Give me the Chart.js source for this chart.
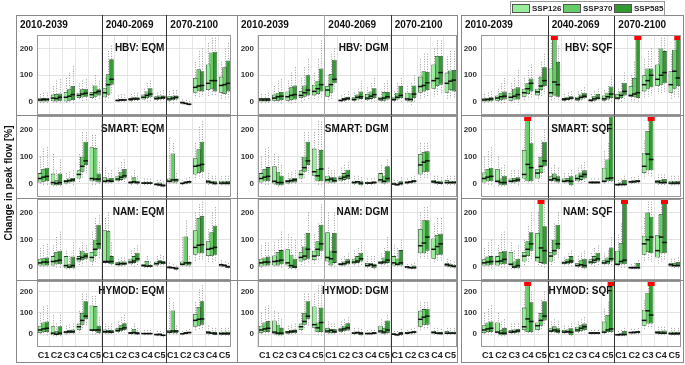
<!DOCTYPE html>
<html>
<head>
<meta charset="utf-8">
<script src="https://cdn.jsdelivr.net/npm/chart.js@4.4.1/dist/chart.umd.min.js"></script>
<style>
  body { margin: 0; background: #fff; font-family: "Liberation Sans", Arial, sans-serif; }
  #fig { position: relative; width: 685px; height: 365px; overflow: hidden; }
  #fig div, #fig canvas { position: absolute; }
  .frame { border: 1px solid #888; box-sizing: border-box; }
  .hdr { font-size: 10px; font-weight: bold; color: #111; line-height: 12px; white-space: nowrap; }
  .ttl { font-size: 10px; font-weight: bold; color: #111; line-height: 12px; text-align: right; white-space: nowrap; }
</style>
</head>
<body>
<div id="fig"></div>
<script>
// axis / category labels
const periods = ["2010-2039", "2040-2069", "2070-2100"];
const catNames = ["C1", "C2", "C3", "C4", "C5"];
const sspNames = ["SSP126", "SSP370", "SSP585"];
const sspColors = ["#99ee99", "#66cc66", "#339933"];
const yTicks = [0, 100, 200];
const yMax = 250;

// each box: [lower whisker, q1, median, q3, upper whisker], 15 per series (C1..C5 x 3 periods)
const hbvEqm126 = [[-5,0,8,14,30],[-3,3,15,28,60],[-5,2,18,38,90],[5,15,25,35,70],[5,15,28,38,65],
  [5,18,35,52,90],[0,3,6,10,25],[0,5,10,15,30],[0,10,18,28,50],[2,8,14,22,35],
  [-5,5,12,22,40],[-10,-5,-2,2,10],[15,35,55,90,150],[20,45,70,140,220],[10,35,62,95,150]];
const hbvEqm370 = [[-5,0,9,15,35],[-5,2,13,30,80],[-5,5,22,48,110],[5,18,30,48,80],[5,20,35,62,100],
  [10,27,65,104,190],[0,5,8,12,30],[0,8,12,18,35],[0,15,25,40,70],[0,10,15,25,40],
  [-5,8,15,24,45],[-12,-8,-5,-2,8],[20,42,60,122,190],[25,50,80,185,240],[10,30,65,130,200]];
const hbvEqm585 = [[-5,0,10,16,35],[-5,5,18,32,85],[-10,8,28,60,135],[5,20,33,50,85],[10,25,40,48,80],
  [30,65,85,160,210],[0,5,8,12,28],[2,8,12,18,35],[0,18,30,52,80],[2,12,18,25,45],
  [0,10,18,25,45],[-15,-12,-8,-5,5],[20,40,62,115,200],[25,40,80,188,240],[15,40,70,155,220]];

const hbvDgm126 = [[-5,0,8,15,30],[-5,5,15,28,60],[-5,5,20,40,80],[0,15,25,42,90],[10,25,40,65,110],
  [5,20,45,60,100],[0,3,6,10,25],[0,5,10,18,35],[0,8,15,30,55],[0,5,12,20,40],
  [0,5,10,20,40],[-5,5,12,35,60],[10,35,58,95,160],[20,50,80,140,200],[10,35,70,110,170]];
const hbvDgm370 = [[-5,0,8,15,30],[-5,5,20,35,80],[-5,8,25,55,110],[5,20,35,62,130],[10,30,50,80,160],
  [10,35,65,105,180],[0,5,10,15,30],[0,10,18,28,50],[0,12,22,40,70],[-5,5,15,38,70],
  [0,10,18,35,70],[-10,2,10,35,70],[15,40,62,115,180],[25,60,88,172,230],[15,45,78,118,190]];
const hbvDgm585 = [[-5,0,8,15,35],[-5,8,22,38,85],[-5,10,28,62,130],[5,25,45,100,160],[15,40,65,125,230],
  [40,70,85,158,200],[2,8,14,20,40],[0,12,20,40,80],[2,15,28,52,90],[0,10,20,38,80],
  [0,15,25,60,90],[0,15,30,62,100],[20,45,72,112,180],[30,65,110,172,230],[15,40,82,120,190]];

const hbvSqf126 = [[-5,0,8,14,30],[-5,5,15,25,50],[-5,5,18,35,70],[5,20,35,50,90],[10,25,38,50,90],
  [5,20,35,125,220],[0,5,10,15,30],[0,5,12,20,40],[-5,3,6,12,30],[0,5,12,25,45],
  [0,10,15,30,50],[0,20,25,60,100],[15,40,65,100,160],[30,60,85,140,200],[10,35,65,115,180]];
const hbvSqf370 = [[-5,2,10,16,35],[-5,8,20,35,70],[-5,10,22,50,90],[10,30,50,70,120],[20,45,60,95,150],
  [5,25,75,250,300],[0,8,12,20,35],[0,10,18,28,45],[-5,5,12,22,40],[0,10,20,35,60],
  [0,15,25,40,70],[0,20,30,90,150],[20,50,80,125,190],[30,65,100,200,240],[20,50,115,195,240]];
const hbvSqf585 = [[-5,3,12,18,40],[-5,10,22,40,90],[-10,10,28,55,120],[15,40,70,88,140],[30,60,80,130,180],
  [0,20,65,150,210],[0,10,15,22,40],[5,15,22,35,55],[0,10,15,30,50],[0,15,30,58,95],
  [5,25,40,72,110],[0,15,35,250,300],[25,55,100,125,200],[35,70,110,190,240],[20,60,90,250,300]];

const smartEqm126 = [[-5,5,20,40,100],[-10,-5,5,38,110],[-5,2,10,15,40],[5,20,35,50,110],[-5,10,20,135,180],
  [-5,5,10,25,60],[0,10,18,30,60],[-5,0,5,10,30],[-5,0,3,6,20],[-10,-5,-2,3,15],
  [0,5,10,20,170],[-5,0,2,5,15],[15,35,65,95,150],[-5,0,8,15,40],[-10,-2,3,12,30]];
const smartEqm370 = [[-5,8,25,55,130],[-10,-5,2,15,50],[-5,5,12,20,45],[20,45,65,100,190],[-5,10,18,132,180],
  [-5,5,12,20,40],[5,15,25,45,80],[-5,3,8,25,50],[-5,0,3,6,20],[-12,-8,-3,5,15],
  [-5,5,15,112,150],[-5,2,5,10,20],[20,40,68,128,210],[-5,0,5,12,30],[-10,-2,3,12,30]];
const smartEqm585 = [[-5,10,28,60,135],[-10,-5,5,38,90],[-5,8,15,22,50],[40,70,85,155,190],[-5,5,18,38,80],
  [-5,5,10,22,50],[5,20,30,55,90],[-5,0,5,12,30],[-5,0,3,6,20],[-15,-10,-5,-2,10],
  [-5,5,15,20,40],[0,3,8,12,25],[20,45,72,155,230],[-5,-2,2,10,30],[-10,-2,3,12,30]];

const smartDgm126 = [[-5,5,20,40,100],[-10,0,10,65,110],[-5,2,10,15,40],[5,20,35,50,100],[10,30,45,130,190],
  [-5,5,15,30,60],[0,10,20,30,60],[-5,0,5,12,30],[-5,0,3,8,20],[-5,5,15,40,70],
  [-10,-3,0,5,15],[-5,2,5,10,20],[15,35,70,110,150],[-5,3,8,15,30],[-10,0,5,15,30]];
const smartDgm370 = [[-5,10,25,55,130],[-10,-5,5,45,100],[-5,5,12,20,45],[20,45,60,100,190],[-5,10,30,55,230],
  [-5,5,18,25,50],[0,15,25,40,70],[-5,2,8,12,30],[-5,0,3,8,20],[-5,2,10,30,60],
  [-10,-5,-3,2,15],[-5,3,8,12,25],[20,45,80,118,150],[-5,0,5,12,30],[-10,0,5,12,30]];
const smartDgm585 = [[-5,10,28,62,135],[-10,-5,5,30,70],[-5,5,15,22,50],[40,70,85,155,190],[-10,10,55,125,230],
  [-5,5,12,25,50],[5,18,30,52,80],[-10,-5,3,10,25],[-5,2,5,10,20],[-5,5,20,65,90],
  [-10,-3,2,10,25],[-5,5,10,15,30],[20,45,85,120,150],[-5,0,3,10,25],[-10,0,5,12,30]];

const smartSqf126 = [[-5,5,20,42,100],[-10,5,10,55,100],[-5,5,10,20,50],[5,20,35,125,200],[5,20,40,55,100],
  [0,10,15,28,60],[-5,5,10,20,40],[0,10,20,35,60],[-5,3,5,10,20],[-5,5,10,60,120],
  [-10,-5,-3,2,15],[-5,3,8,12,25],[20,40,65,115,160],[-5,0,8,15,35],[-10,-2,3,12,30]];
const smartSqf370 = [[-5,10,25,55,120],[-10,-5,5,20,60],[-5,5,12,22,50],[0,10,72,250,300],[20,40,65,100,160],
  [0,10,20,38,70],[-5,5,12,22,40],[0,15,28,42,70],[-5,3,5,10,20],[0,10,20,90,150],
  [-10,-5,-2,5,20],[0,5,8,14,25],[30,50,110,195,240],[-5,0,5,15,35],[-10,-2,3,12,30]];
const smartSqf585 = [[-5,10,28,60,135],[-10,-5,5,30,70],[-5,8,15,25,50],[0,10,60,150,200],[40,65,85,155,200],
  [-5,5,15,28,60],[-10,-5,10,28,50],[5,20,35,50,80],[-5,3,5,10,20],[0,10,22,248,248],
  [-10,-5,-2,15,30],[0,5,10,15,30],[25,50,90,250,300],[-5,0,5,18,35],[-10,-2,3,12,30]];

const namEqm126 = [[-5,5,15,30,70],[-5,5,20,40,80],[-10,-5,5,40,60],[5,20,30,40,70],[5,20,35,55,130],
  [5,15,20,135,180],[0,5,10,18,30],[0,10,18,30,60],[-5,0,5,10,20],[0,5,12,20,40],
  [-10,-5,-2,3,15],[-5,5,10,20,110],[20,45,72,135,200],[15,40,65,95,140],[-5,2,8,12,25]];
const namEqm370 = [[-5,5,18,32,80],[-5,10,22,55,110],[-10,-5,0,10,40],[5,25,35,60,90],[15,40,65,100,180],
  [5,15,20,132,200],[0,5,12,20,35],[0,15,22,40,70],[-5,0,3,22,40],[0,10,18,25,45],
  [-10,-5,-3,0,10],[-5,5,15,112,170],[25,50,80,180,230],[15,40,68,128,200],[-5,0,5,10,20]];
const namEqm585 = [[-5,5,18,35,85],[-5,10,25,60,130],[-10,-5,5,38,90],[10,30,40,52,80],[30,65,85,155,190],
  [0,10,20,40,90],[0,8,12,20,35],[5,20,30,52,80],[-5,0,3,8,20],[0,10,15,22,40],
  [-15,-10,-5,-2,5],[-5,5,15,20,40],[25,50,82,188,240],[20,45,72,152,220],[-10,-2,0,5,15]];

const namDgm126 = [[-10,0,15,30,80],[-5,5,20,42,90],[-10,5,15,65,120],[5,20,35,55,100],[10,25,40,60,120],
  [5,20,35,128,200],[0,5,10,15,30],[0,10,18,30,60],[-5,0,5,15,40],[0,10,15,22,50],
  [-5,5,15,40,80],[-10,-5,0,3,10],[30,50,78,140,200],[15,30,65,105,160],[-5,2,8,15,30]];
const namDgm370 = [[-5,5,18,35,90],[-5,5,22,55,100],[-10,-5,5,45,110],[5,25,40,75,120],[20,40,65,95,160],
  [-5,5,30,60,110],[0,5,12,20,40],[0,15,22,40,70],[-5,0,8,15,40],[0,10,18,35,70],
  [-5,5,10,30,70],[-10,-5,-3,2,10],[30,50,88,172,220],[20,45,75,118,180],[-5,0,5,12,25]];
const namDgm585 = [[-5,5,18,38,90],[-5,10,25,62,130],[-10,-5,0,30,100],[10,30,65,125,200],[30,60,85,155,230],
  [-5,15,55,125,200],[0,10,18,28,50],[5,20,30,52,90],[-10,-5,5,12,40],[0,15,25,60,110],
  [-5,5,15,62,100],[-10,-5,-3,5,15],[30,60,110,172,220],[20,45,85,122,180],[-10,-2,2,8,20]];

const namSqf126 = [[-5,5,15,28,70],[-5,5,20,40,80],[-10,5,10,55,90],[5,20,40,55,100],[5,20,35,125,200],
  [5,20,40,55,100],[0,10,15,20,35],[-5,0,5,15,40],[0,10,18,28,50],[0,10,15,25,50],
  [-5,5,10,60,120],[-10,-5,-3,2,10],[20,45,85,115,180],[10,35,60,118,190],[-5,2,8,15,30]];
const namSqf370 = [[-5,5,18,38,90],[-5,10,22,55,120],[-10,-5,0,20,60],[15,40,65,95,150],[0,15,70,250,300],
  [15,45,60,100,160],[0,10,18,30,50],[-5,0,8,25,50],[0,15,25,40,70],[0,10,20,35,60],
  [-5,10,20,88,160],[-10,-5,-3,2,15],[25,55,100,200,240],[20,50,110,195,240],[-5,0,5,15,30]];
const namSqf585 = [[-5,8,20,40,100],[-5,10,28,60,130],[-10,-5,5,30,80],[30,60,85,128,200],[-5,10,60,150,230],
  [30,65,85,155,200],[0,15,22,40,60],[-10,-5,5,30,60],[5,20,30,52,80],[0,20,30,72,110],
  [-5,10,25,250,300],[-10,-5,-3,15,25],[20,50,110,185,240],[25,50,90,250,300],[-5,0,5,18,35]];

const hymodEqm126 = [[-5,5,20,40,100],[-10,-5,5,38,90],[-5,3,10,15,40],[5,20,35,50,110],[-5,15,20,135,180],
  [-5,5,12,22,50],[0,10,18,30,60],[-5,0,5,10,30],[-5,0,3,6,20],[-10,-5,-2,3,15],
  [0,5,10,20,170],[-5,0,2,5,15],[15,35,65,95,150],[-5,0,8,15,40],[-10,-2,3,12,30]];
const hymodEqm370 = [[-5,10,25,55,130],[-10,-5,0,15,50],[-5,5,12,20,45],[20,45,65,100,190],[-5,15,20,132,180],
  [-5,5,12,20,40],[5,15,25,42,80],[-5,2,8,25,50],[-5,0,3,6,20],[-10,-5,-2,5,15],
  [-5,5,15,112,150],[-5,2,5,10,20],[20,40,70,128,210],[-5,0,5,12,30],[-10,-2,3,12,30]];
const hymodEqm585 = [[-5,10,28,60,135],[-10,-5,5,38,90],[-5,5,12,22,50],[40,70,85,155,190],[-5,5,20,40,80],
  [-5,5,10,20,50],[5,20,30,52,90],[-5,0,3,10,30],[-5,0,3,6,20],[-15,-10,-5,-2,10],
  [-5,5,15,20,40],[0,3,8,12,25],[20,45,72,155,230],[-5,-2,2,10,30],[-10,-2,3,12,30]];

const hymodDgm126 = [[-5,5,20,40,100],[-10,0,10,65,110],[-5,2,10,15,40],[5,20,35,50,100],[10,30,45,130,190],
  [-5,5,15,30,60],[0,10,20,30,60],[-5,0,5,12,30],[-5,0,3,8,20],[-5,5,15,40,70],
  [-10,-3,0,5,15],[-5,2,5,10,20],[15,35,70,110,150],[-5,3,8,15,30],[-10,0,5,15,30]];
const hymodDgm370 = [[-5,10,25,55,130],[-10,-5,5,45,100],[-5,5,12,20,45],[20,45,60,100,190],[-5,10,30,55,230],
  [-5,5,18,25,50],[0,15,25,40,70],[-5,2,8,12,30],[-5,0,3,8,20],[-5,2,10,30,60],
  [-10,-5,-3,2,15],[-5,3,8,12,25],[20,45,80,118,150],[-5,0,5,12,30],[-10,0,5,12,30]];
const hymodDgm585 = [[-5,10,28,62,135],[-10,-5,5,30,70],[-5,5,15,22,50],[40,70,85,155,190],[-10,10,55,125,230],
  [-5,5,12,25,50],[5,18,30,52,80],[-10,-5,3,10,25],[-5,2,5,10,20],[-5,5,20,65,90],
  [-10,-3,2,10,25],[-5,5,10,15,30],[20,45,85,120,150],[-5,0,3,10,25],[-10,0,5,12,30]];

const hymodSqf126 = [[-5,5,20,42,100],[-10,5,10,55,100],[-5,5,10,20,50],[5,20,35,125,200],[5,20,40,55,100],
  [0,10,15,28,60],[-5,5,10,20,40],[0,10,20,35,60],[-5,3,5,10,20],[-5,5,10,60,120],
  [-10,-5,-3,2,15],[-5,3,8,12,25],[20,40,65,115,160],[-5,0,8,15,35],[-10,-2,3,12,30]];
const hymodSqf370 = [[-5,10,25,55,120],[-10,-5,5,20,60],[-5,5,12,22,50],[0,10,72,250,300],[20,40,65,100,160],
  [0,10,20,38,70],[-5,5,12,22,40],[0,15,28,42,70],[-5,3,5,10,20],[0,10,20,90,150],
  [-10,-5,-2,5,20],[0,5,8,14,25],[30,50,110,195,240],[-5,0,5,15,35],[-10,-2,3,12,30]];
const hymodSqf585 = [[-5,10,28,60,135],[-10,-5,5,30,70],[-5,8,15,25,50],[0,10,60,150,200],[40,65,85,155,200],
  [-5,5,15,28,60],[-10,-5,10,28,50],[5,20,35,50,80],[-5,3,5,10,20],[0,10,25,250,300],
  [-10,-5,-2,15,30],[0,5,10,15,30],[25,50,90,250,300],[-5,0,5,18,35],[-10,-2,3,12,30]];

const panels = [
  { title: "HBV: EQM", col: 0, row: 0, sets: [hbvEqm126, hbvEqm370, hbvEqm585] },
  { title: "HBV: DGM", col: 1, row: 0, sets: [hbvDgm126, hbvDgm370, hbvDgm585] },
  { title: "HBV: SQF", col: 2, row: 0, sets: [hbvSqf126, hbvSqf370, hbvSqf585] },
  { title: "SMART: EQM", col: 0, row: 1, sets: [smartEqm126, smartEqm370, smartEqm585] },
  { title: "SMART: DGM", col: 1, row: 1, sets: [smartDgm126, smartDgm370, smartDgm585] },
  { title: "SMART: SQF", col: 2, row: 1, sets: [smartSqf126, smartSqf370, smartSqf585] },
  { title: "NAM: EQM", col: 0, row: 2, sets: [namEqm126, namEqm370, namEqm585] },
  { title: "NAM: DGM", col: 1, row: 2, sets: [namDgm126, namDgm370, namDgm585] },
  { title: "NAM: SQF", col: 2, row: 2, sets: [namSqf126, namSqf370, namSqf585] },
  { title: "HYMOD: EQM", col: 0, row: 3, sets: [hymodEqm126, hymodEqm370, hymodEqm585] },
  { title: "HYMOD: DGM", col: 1, row: 3, sets: [hymodDgm126, hymodDgm370, hymodDgm585] },
  { title: "HYMOD: SQF", col: 2, row: 3, sets: [hymodSqf126, hymodSqf370, hymodSqf585] }
];

// layout of the three blocks and four rows
const cols = [
  { l: 16, r: 238, pl: 37, pr: 231, lines: ["#333", "#333"] },
  { l: 237, r: 458, pl: 258, pr: 457, lines: ["#aaa", "#333"] },
  { l: 461, r: 684, pl: 481, pr: 681, lines: ["#333", "#333"] }
];
const rows = [
  { t: 35, h: 80, min: -48 },
  { t: 116, h: 81, min: -48 },
  { t: 199, h: 81, min: -48 },
  { t: 281, h: 66, min: -60 }
];
const frameTop = 15, frameBottom = 363, yAxisW = 22, xAxisH = 18;

const fig = document.getElementById("fig");
function addDiv(cls, css, text) {
  const d = document.createElement("div");
  if (cls) d.className = cls;
  Object.assign(d.style, css);
  if (text) d.textContent = text;
  fig.appendChild(d);
  return d;
}

// box-plot parts: whiskers, medians, clipped markers, plot frame
const boxPlugin = {
  id: "boxParts",
  beforeDatasetsDraw(chart) {
    const ctx = chart.ctx, y = chart.scales.y, a = chart.chartArea;
    ctx.save();
    ctx.beginPath();
    ctx.rect(a.left, a.top, a.right - a.left, a.bottom - a.top);
    ctx.clip();
    ctx.strokeStyle = "#a0a0a0";
    ctx.lineWidth = 1;
    ctx.setLineDash([1, 1.5]);
    chart.data.datasets.forEach((ds, i) => {
      chart.getDatasetMeta(i).data.forEach((bar, j) => {
        const s = ds.stats[j];
        const x = Math.round(bar.x) + 0.5;
        ctx.beginPath();
        ctx.moveTo(x, y.getPixelForValue(s[4]));
        ctx.lineTo(x, y.getPixelForValue(s[3]));
        ctx.moveTo(x, y.getPixelForValue(s[1]));
        ctx.lineTo(x, y.getPixelForValue(s[0]));
        ctx.stroke();
      });
    });
    ctx.restore();
  },
  afterDatasetsDraw(chart) {
    const ctx = chart.ctx, y = chart.scales.y, a = chart.chartArea;
    ctx.save();
    ctx.beginPath();
    ctx.rect(a.left, a.top, a.right - a.left, a.bottom - a.top);
    ctx.clip();
    chart.data.datasets.forEach((ds, i) => {
      chart.getDatasetMeta(i).data.forEach((bar, j) => {
        const s = ds.stats[j];
        const my = y.getPixelForValue(s[2]);
        ctx.strokeStyle = "#111";
        ctx.lineWidth = 1.5;
        ctx.beginPath();
        ctx.moveTo(bar.x - bar.width / 2, my);
        ctx.lineTo(bar.x + bar.width / 2, my);
        ctx.stroke();
        if (s[4] > y.max) {
          ctx.fillStyle = "#ff0000";
          ctx.fillRect(bar.x - 3.5, a.top, 7, 5);
        }
      });
    });
    ctx.restore();
    ctx.save();
    ctx.strokeStyle = "#999";
    ctx.lineWidth = 1;
    ctx.strokeRect(a.left + 0.5, a.top + 0.5, a.right - a.left - 1, a.bottom - a.top - 1);
    ctx.restore();
  }
};

const labels = periods.flatMap(() => catNames);

panels.forEach(p => {
  const c = cols[p.col], r = rows[p.row];
  const bottom = p.row === rows.length - 1;
  const cv = document.createElement("canvas");
  const w = c.pr - c.pl + yAxisW;
  const h = r.h + (bottom ? xAxisH : 0);
  cv.width = w; cv.height = h;
  cv.style.left = (c.pl - yAxisW) + "px";
  cv.style.top = r.t + "px";
  fig.appendChild(cv);

  new Chart(cv, {
    type: "bar",
    data: {
      labels: labels,
      datasets: sspNames.map((name, k) => ({
        label: name,
        data: p.sets[k].map(s => [s[1], s[3]]),
        stats: p.sets[k],
        backgroundColor: sspColors[k],
        borderColor: "#2e4a2e",
        borderWidth: 0.8,
        borderSkipped: false,
        categoryPercentage: 0.78,
        barPercentage: 1.35
      }))
    },
    options: {
      responsive: false,
      animation: false,
      events: [],
      layout: { padding: 0 },
      plugins: { legend: { display: false }, tooltip: { enabled: false } },
      scales: {
        x: {
          grid: { color: "#e6e6e6", drawTicks: false },
          border: { display: false },
          ticks: { display: bottom, autoSkip: false, maxRotation: 0, padding: 3,
                   color: "#222", font: { size: 9, weight: "bold", family: "Liberation Sans" } },
          afterFit(axis) {
            axis.height = bottom ? xAxisH : 0;
            axis.paddingLeft = 0; axis.paddingRight = 0;
          }
        },
        y: {
          min: r.min,
          max: yMax,
          afterBuildTicks(axis) { axis.ticks = yTicks.map(v => ({ value: v })); },
          grid: { color: "#e2e2e2", drawTicks: false },
          border: { display: false },
          ticks: { padding: 4, color: "#333", font: { size: 8, weight: "bold", family: "Liberation Sans" } },
          afterFit(axis) {
            axis.width = yAxisW;
            axis.paddingTop = 0; axis.paddingBottom = 0;
          }
        }
      }
    },
    plugins: [boxPlugin]
  });

  // panel title, right-aligned against the second period line
  const div2 = c.pl + (c.pr - c.pl) * 10 / 15;
  addDiv("ttl", { left: (div2 - 202) + "px", width: "200px", top: (r.t + (bottom ? 4 : 7)) + "px" }, p.title);
});

// block frames, period lines, headers, row separators
cols.forEach(c => {
  addDiv("frame", { left: c.l + "px", top: frameTop + "px", width: (c.r - c.l) + "px", height: (frameBottom - frameTop) + "px" });
  const step = (c.pr - c.pl) / 15;
  const xs = [c.l + 4, c.pl + step * 5 + 4, c.pl + step * 10 + 4];
  periods.forEach((txt, i) => addDiv("hdr", { left: xs[i] + "px", top: "19px" }, txt));
  [5, 10].forEach((k, i) => {
    addDiv(null, { left: Math.round(c.pl + step * k) + "px", top: frameTop + "px", width: "1px",
                   height: (frameBottom - frameTop) + "px", background: c.lines[i] });
  });
  rows.slice(1).forEach(r => {
    addDiv(null, { left: c.l + "px", top: (r.t - 1) + "px", width: (c.r - c.l) + "px", height: "1px", background: "#888" });
  });
});

// y axis title
addDiv(null, { left: "8px", top: "183px", transform: "translate(-50%,-50%) rotate(-90deg)", fontSize: "10px",
               fontWeight: "bold", color: "#111", whiteSpace: "nowrap" }, "Change in peak flow [%]");

// legend
const leg = addDiv(null, { left: "510px", top: "1px", width: "155px", height: "15px", border: "1px solid #999",
                           boxSizing: "border-box", background: "#fff" });
sspNames.forEach((n, k) => {
  const x = 1 + k * 51;
  const sw = document.createElement("div");
  Object.assign(sw.style, { position: "absolute", left: x + "px", top: "2px", width: "18px", height: "9px",
                            background: sspColors[k], border: "1px solid #555", boxSizing: "border-box" });
  leg.appendChild(sw);
  const t = document.createElement("div");
  Object.assign(t.style, { position: "absolute", left: (x + 20) + "px", top: "1px", fontSize: "8px",
                           fontWeight: "bold", color: "#222", lineHeight: "11px" });
  t.textContent = n;
  leg.appendChild(t);
});
</script>
</body>
</html>
